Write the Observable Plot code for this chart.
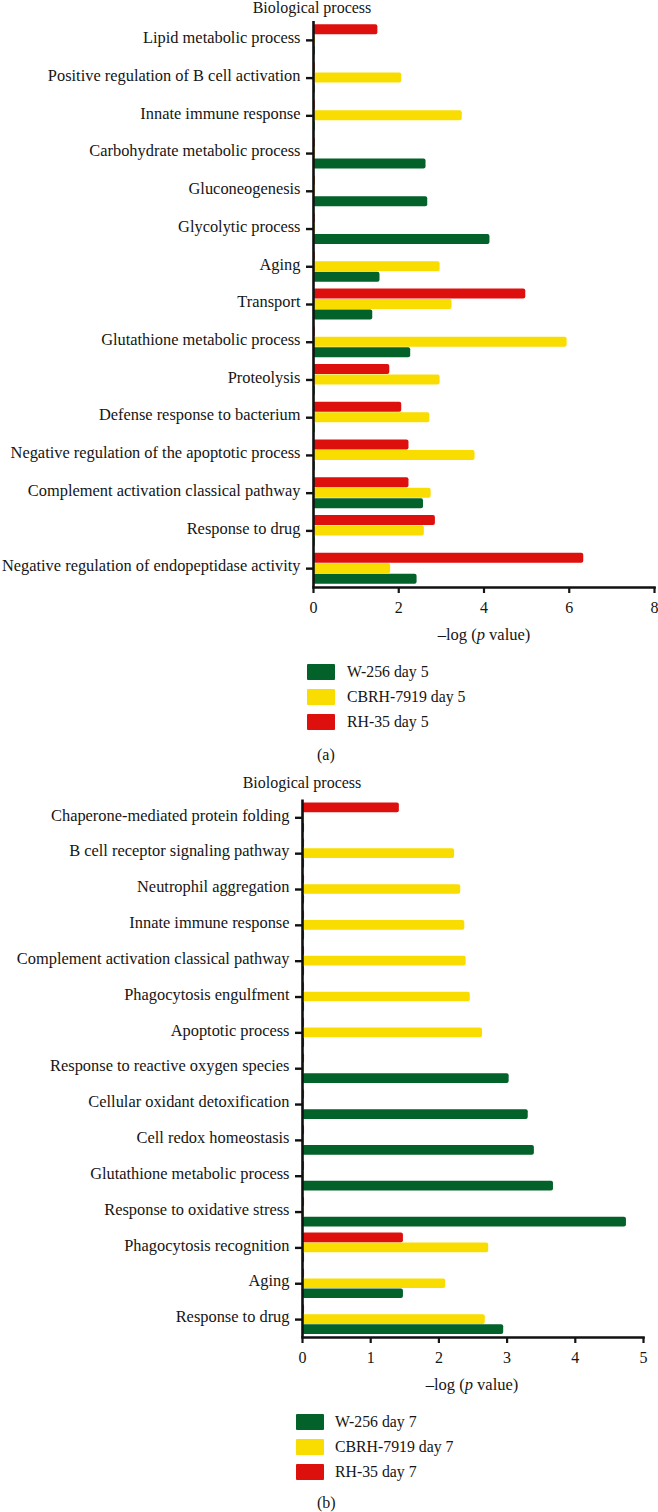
<!DOCTYPE html>
<html><head><meta charset="utf-8">
<script src="https://cdn.jsdelivr.net/npm/d3@7"></script>
<script src="https://cdn.jsdelivr.net/npm/@observablehq/plot@0.6"></script>
<style>
body{margin:0;background:#fff;font-family:"Liberation Serif","DejaVu Serif",serif;color:#151515;}
#root{position:relative;width:658px;height:1512px;overflow:hidden;}
.abs{position:absolute;white-space:nowrap;font-size:16px;line-height:18px;}
.ctr{transform:translateX(-50%);}
.sw{position:absolute;width:28px;height:16px;border-radius:1px;}
</style></head><body><div id="root"></div>
<script>
// ---------- Panel (a) data ----------
const seriesA = ["W-256 day 5", "CBRH-7919 day 5", "RH-35 day 5"];
const catsA = [
  "Lipid metabolic process",
  "Positive regulation of B cell activation",
  "Innate immune response",
  "Carbohydrate metabolic process",
  "Gluconeogenesis",
  "Glycolytic process",
  "Aging",
  "Transport",
  "Glutathione metabolic process",
  "Proteolysis",
  "Defense response to bacterium",
  "Negative regulation of the apoptotic process",
  "Complement activation classical pathway",
  "Response to drug",
  "Negative regulation of endopeptidase activity"
];
const w256A = [0.04, 0.04, 0.04, 2.64, 2.68, 4.14, 1.56, 1.39, 2.28, 0.04, 0.04, 0.04, 2.58, 0.04, 2.43];
const cbrhA = [0.04, 2.07, 3.49, 0.04, 0.04, 0.04, 2.97, 3.25, 5.95, 2.97, 2.73, 3.79, 2.76, 2.60, 1.81];
const rh35A = [1.51, 0.04, 0.04, 0.04, 0.04, 0.04, 0.04, 4.98, 0.04, 1.79, 2.07, 2.24, 2.24, 2.86, 6.34];
const ticksA = [0, 2, 4, 6, 8];

// ---------- Panel (b) data ----------
const seriesB = ["W-256 day 7", "CBRH-7919 day 7", "RH-35 day 7"];
const catsB = [
  "Chaperone-mediated protein folding",
  "B cell receptor signaling pathway",
  "Neutrophil aggregation",
  "Innate immune response",
  "Complement activation classical pathway",
  "Phagocytosis engulfment",
  "Apoptotic process",
  "Response to reactive oxygen species",
  "Cellular oxidant detoxification",
  "Cell redox homeostasis",
  "Glutathione metabolic process",
  "Response to oxidative stress",
  "Phagocytosis recognition",
  "Aging",
  "Response to drug"
];
const w256B = [0.03, 0.03, 0.03, 0.03, 0.03, 0.03, 0.03, 3.03, 3.31, 3.40, 3.68, 4.75, 0.03, 1.48, 2.95];
const cbrhB = [0.03, 2.23, 2.32, 2.38, 2.40, 2.46, 2.64, 0.03, 0.03, 0.03, 0.03, 0.03, 2.73, 2.10, 2.68];
const rh35B = [1.42, 0.03, 0.03, 0.03, 0.03, 0.03, 0.03, 0.03, 0.03, 0.03, 0.03, 0.03, 1.48, 0.03, 0.03];
const ticksB = [0, 1, 2, 3, 4, 5];

const colors = ["#03622a", "#f9dd00", "#de100e"];

function panel(o) {
  const rows = [];
  o.cats.forEach((c, i) => o.series.forEach((s, j) => rows.push({cat: c, series: s, value: o.vals[j][i]})));
  const offs = [o.step, 0, -o.step];
  const step = (o.height - o.marginTop - o.marginBottom) / o.cats.length;
  const inset = (step - o.barH) / 2;
  return Plot.plot({
    width: 658, height: o.height,
    marginLeft: o.marginLeft, marginRight: o.marginRight,
    marginTop: o.marginTop, marginBottom: o.marginBottom,
    style: {fontFamily: '"Liberation Serif", serif', fontSize: "16px", color: "#151515", background: "transparent"},
    x: {domain: o.xDomain},
    y: {domain: o.cats, padding: 0, round: false},
    color: {domain: o.series, range: colors},
    marks: [
      ...o.series.map((s, j) => Plot.barX(rows.filter(r => r.series === s), {
        x: "value", y: "cat", fill: "series", dy: offs[j],
        insetTop: inset, insetBottom: inset, rx: 2
      })),
      Plot.axisY({tickSize: 7, strokeWidth: 2.4, stroke: "#111", tickFormat: () => "", label: null}),
      Plot.axisY({tickSize: 0, tickPadding: 13, dy: -2.5, fontSize: 16.4, label: null}),
      Plot.axisX({ticks: o.ticks, tickFormat: d => String(d), tickSize: 6, tickPadding: 8, strokeWidth: 2.2, fontSize: 16, label: null}),
      Plot.ruleX([0], {strokeWidth: 2.6, stroke: "#111"}),
      Plot.frame({anchor: "bottom", strokeWidth: 2.6, stroke: "#111"})
    ]
  });
}

const root = document.getElementById("root");
function add(el, top, left) { el.style.position = "absolute"; el.style.top = top + "px"; el.style.left = left + "px"; root.appendChild(el); return el; }
function text(html, top, left, center, size) {
  const d = document.createElement("div");
  d.className = "abs" + (center ? " ctr" : "");
  if (size) d.style.fontSize = size + "px";
  d.innerHTML = html;
  return add(d, top, left);
}
function swatch(color, top, left) {
  const d = document.createElement("div");
  d.className = "sw"; d.style.background = color;
  return add(d, top, left);
}

// Panel (a)
const pa = panel({cats: catsA, series: seriesA, vals: [w256A, cbrhA, rh35A], xDomain: [0, 8], ticks: ticksA,
  height: 650, marginLeft: 313, marginRight: 4, marginTop: 21, marginBottom: 63, step: 10.5, barH: 10});
add(pa, 0, 0);
text("Biological process", 0, 312, true, 16).style.lineHeight = "16px";
text("–log (<i>p</i> value)", 626, 484, true, 16.5);
seriesA.forEach((s, j) => { swatch(colors[j], 664 + j * 24.8, 307); text(s, 663 + j * 24.8, 347, false, 15.8); });
text("(a)", 746, 317, false, 16);

// Panel (b)
const pb = panel({cats: catsB, series: seriesB, vals: [w256B, cbrhB, rh35B], xDomain: [0, 5], ticks: ticksB,
  height: 617, marginLeft: 302, marginRight: 15, marginTop: 19.4, marginBottom: 60, step: 10, barH: 9.7});
add(pb, 780, 0);
text("Biological process", 774, 302, true, 16);
text("–log (<i>p</i> value)", 1376, 472, true, 16.5);
seriesB.forEach((s, j) => { swatch(colors[j], 1414 + j * 25, 296); text(s, 1413 + j * 25, 335, false, 15.8); });
text("(b)", 1494, 317, false, 16);
</script>
</body></html>
